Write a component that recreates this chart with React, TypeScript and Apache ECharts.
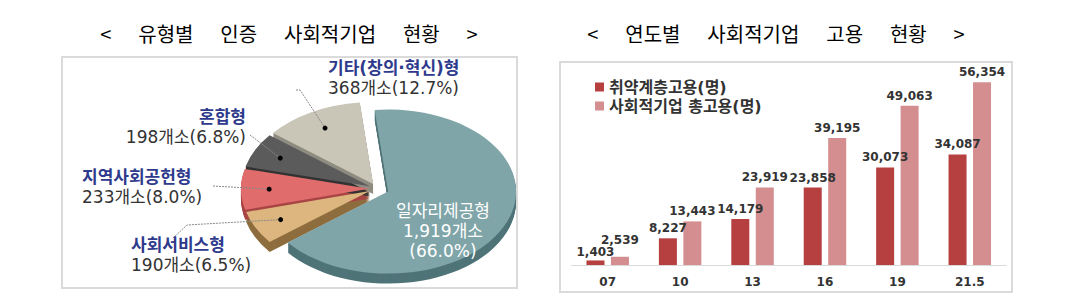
import React, { useEffect, useRef } from "react";
import * as echarts from "echarts";

// ---------- data ----------
const pieNames = ["일자리제공형", "사회서비스형", "지역사회공헌형", "혼합형", "기타(창의·혁신)형"];
const pieCounts = [1919, 190, 233, 198, 368];

const years = ["07", "10", "13", "16", "19", "21.5"];
const vulnerableEmp = [1403, 8227, 14179, 23858, 30073, 34087];
const totalEmp = [2539, 13443, 23919, 39195, 49063, 56354];

const seriesNames = ["취약계층고용(명)", "사회적기업 총고용(명)"];
const SP = "      ";
const leftTitle = ["<", "유형별", "인증", "사회적기업", "현황", ">"].join(SP);
const rightTitle = ["<", "연도별", "사회적기업", "고용", "현황", ">"].join(SP);

// ---------- styles / layout ----------
const pieColors = ["#80a5a9", "#dcb67e", "#e06c6c", "#5b5b5b", "#c9c6b8"];
const pieSideColors = ["#4f7478", "#8e6d3e", "#a94545", "#333333", "#8f8c80"];
const PIE = { cx: 377, cy: 188.6, rx: 128, ry: 82, depth: 10, startDeg: -96 };
const explode = [12, 8, 8, 8, 8];
const labelLayout = [
  { x: 443, ys: [211, 231, 251], align: "center", anchor: null },
  { x: 131, ys: [245, 265], align: "left", anchor: [[173, 238], [187, 225]] },
  { x: 82, ys: [177, 197], align: "left", anchor: [[213, 186]] },
  { x: 246, ys: [117, 137], align: "right", anchor: [[250, 135]] },
  { x: 328, ys: [68, 88], align: "left", anchor: [[296, 90], [300, 90]] },
];
const FONT_FAM = '"DejaVu Sans", "Noto Sans CJK KR"';
const barLabelNudge: Record<string, number> = { "0-0": 2, "1-0": -7 };

const pieTotal = pieCounts.reduce((a, b) => a + b, 0);
const fmt = (v: number) => v.toLocaleString("en-US");

function sliceGeom(i: number) {
  const before = pieCounts.slice(0, i).reduce((a, b) => a + b, 0);
  const start = (PIE.startDeg * Math.PI) / 180;
  const a0 = start + (before / pieTotal) * Math.PI * 2;
  const a1 = a0 + (pieCounts[i] / pieTotal) * Math.PI * 2;
  const mid = (a0 + a1) / 2;
  const sy = PIE.ry / PIE.rx;
  const ox = explode[i] * Math.cos(mid);
  const oy = explode[i] * Math.sin(mid) * sy;
  const ax = PIE.cx + ox;
  const ay = PIE.cy + oy;
  const dot = [ax + 0.78 * PIE.rx * Math.cos(mid), ay + 0.78 * PIE.ry * Math.sin(mid)];
  return { a0, a1, mid, sy, ax, ay, dot };
}

function renderSide(params: any, api: any) {
  const i = params.dataIndex;
  const g = sliceGeom(i);
  const children: any[] = [];
  for (let k = PIE.depth; k >= 1; k--) {
    children.push({
      type: "group",
      x: g.ax,
      y: g.ay + k,
      scaleY: g.sy,
      children: [
        {
          type: "sector",
          shape: { cx: 0, cy: 0, r: PIE.rx, r0: 0, startAngle: g.a0, endAngle: g.a1, clockwise: true },
          style: { fill: pieSideColors[i] },
        },
      ],
    });
  }
  return { type: "group", children };
}

function renderTop(params: any, api: any) {
  const i = params.dataIndex;
  const g = sliceGeom(i);
  const v = api.value(0);
  const pct = ((v / pieTotal) * 100).toFixed(1);
  const lay = labelLayout[i];
  const children: any[] = [
    {
      type: "group",
      x: g.ax,
      y: g.ay,
      scaleY: g.sy,
      children: [
        {
          type: "sector",
          shape: { cx: 0, cy: 0, r: PIE.rx, r0: 0, startAngle: g.a0, endAngle: g.a1, clockwise: true },
          style: { fill: pieColors[i] },
        },
      ],
    },
  ];
  if (lay.anchor) {
    children.push({
      type: "polyline",
      shape: { points: [...lay.anchor, g.dot] },
      style: { stroke: "#8a8a8a", lineWidth: 1, lineDash: [2, 1], fill: null },
    });
    children.push({
      type: "circle",
      shape: { cx: g.dot[0], cy: g.dot[1], r: 2.5 },
      style: { fill: "#000" },
    });
  }
  const lines =
    i === 0
      ? [pieNames[i], `${fmt(v)}개소`, `(${pct}%)`]
      : [pieNames[i], `${fmt(v)}개소(${pct}%)`];
  lines.forEach((t, j) => {
    const isName = j === 0 && i !== 0;
    children.push({
      type: "text",
      style: {
        text: t,
        x: lay.x,
        y: lay.ys[j],
        fill: i === 0 ? "#ffffff" : isName ? "#2e3a8c" : "#333333",
        font: `${isName ? "bold " : ""}17px ${FONT_FAM}`,
        align: lay.align,
        textAlign: lay.align,
        verticalAlign: "middle",
        textVerticalAlign: "middle",
      },
    });
  });
  return { type: "group", children };
}

function buildBarData(values: number[], si: number) {
  return values.map((v, ci) => {
    const n = barLabelNudge[`${si}-${ci}`];
    return n ? { value: v, label: { offset: [0, n] } } : v;
  });
}

export default function App() {
  const ref = useRef<HTMLDivElement>(null);
  useEffect(() => {
    if (!ref.current) return;
    const chart = echarts.init(ref.current, null, { renderer: "svg" });
    const barLabel = {
      show: true,
      position: "top",
      distance: 4,
      color: "#333",
      fontFamily: "DejaVu Sans",
      fontWeight: "bold",
      fontSize: 12,
      formatter: (p: any) => fmt(p.value),
    };
    const titleStyle = (text: string, x: number) => ({
      type: "text",
      style: {
        text,
        x,
        y: 33,
        font: '20px "Noto Sans CJK KR"',
        fill: "#000",
        align: "center",
        textAlign: "center",
        verticalAlign: "middle",
        textVerticalAlign: "middle",
      },
    });
    chart.setOption({
      animation: false,
      backgroundColor: "#ffffff",
      graphic: [
        {
          type: "rect",
          z: -10,
          shape: { x: 62, y: 57, width: 455, height: 231 },
          style: { fill: "#ffffff", stroke: "#dadada", lineWidth: 2 },
        },
        {
          type: "rect",
          z: -10,
          shape: { x: 560, y: 62, width: 452, height: 230 },
          style: { fill: "#ffffff", stroke: "#dadada", lineWidth: 2 },
        },
        titleStyle(leftTitle, 289),
        titleStyle(rightTitle, 776),
      ],
      legend: {
        orient: "vertical",
        left: 590,
        top: 74,
        itemWidth: 9,
        itemHeight: 9,
        itemGap: 3,
        icon: "rect",
        data: seriesNames,
        textStyle: { color: "#333", fontWeight: "bold", fontSize: 16, fontFamily: FONT_FAM },
      },
      grid: { left: 571.5, right: 64, top: 70.4, bottom: 38, containLabel: false },
      xAxis: {
        type: "category",
        data: years,
        axisLine: { lineStyle: { color: "#d9d9d9", width: 1 } },
        axisTick: { show: false },
        axisLabel: { color: "#333", fontWeight: "bold", fontSize: 12, fontFamily: "DejaVu Sans", margin: 11 },
      },
      yAxis: { type: "value", min: 0, max: 60000, show: false, splitLine: { show: false } },
      series: [
        {
          name: seriesNames[0],
          type: "bar",
          data: buildBarData(vulnerableEmp, 0),
          barWidth: 18,
          barGap: "36%",
          itemStyle: { color: "#b5403f" },
          label: barLabel,
        },
        {
          name: seriesNames[1],
          type: "bar",
          data: buildBarData(totalEmp, 1),
          barWidth: 18,
          barGap: "36%",
          itemStyle: { color: "#d48e8f" },
          label: barLabel,
        },
        {
          type: "custom",
          coordinateSystem: "none",
          silent: true,
          z: 1,
          data: pieCounts,
          renderItem: renderSide,
        },
        {
          type: "custom",
          coordinateSystem: "none",
          silent: true,
          z: 2,
          data: pieCounts,
          renderItem: renderTop,
        },
      ],
    });
    return () => chart.dispose();
  }, []);
  return (
    <div
      ref={ref}
      style={{ position: "fixed", left: 0, top: 0, width: 1070, height: 303 }}
    />
  );
}
